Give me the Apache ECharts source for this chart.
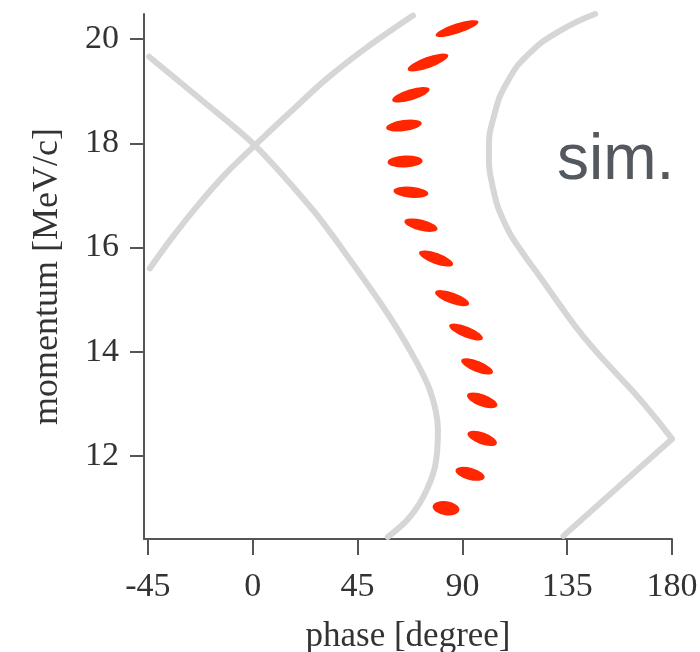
<!DOCTYPE html>
<html>
<head>
<meta charset="utf-8">
<script src="https://cdn.jsdelivr.net/npm/echarts@6/dist/echarts.min.js"></script>
<style>html,body{margin:0;padding:0;background:#fff;}#chart{width:700px;height:652px;}</style>
</head>
<body>
<div id="chart"></div>
<script>
// ---- data ----
const xTicks = [-45, 0, 45, 90, 135, 180];
const yTicks = [12, 14, 16, 18, 20];
const bunchPhase = [87.7, 75.2, 67.9, 64.9, 65.4, 67.9, 72.2, 78.7, 85.6, 91.6, 96.3, 98.5, 98.5, 93.3, 83.0];
const bunchMomentum = [20.20, 19.55, 18.93, 18.34, 17.65, 17.06, 16.43, 15.79, 15.03, 14.38, 13.72, 13.07, 12.34, 11.66, 11.00];
// bunch ellipse shape: [length px, thickness px, tilt deg]
const bunchShape = [[45,10,18],[43,11,20],[39,11,17],[36,11,8],[35,12,2],[35,11,-5],[34,11,-14],[36,11,-20],[36,11,-20],[36,11,-22],[34,11,-22],[32,12,-20],[31,12,-20],[30,12,-15],[27,14,-8]];
const separatrixDown = [[-44.5,19.66],[-22.0,18.83],[0.9,17.96],[26.0,16.71],[38.8,15.95],[56.0,14.86],[67.5,14.03],[76.1,13.26],[79.5,12.50],[78.2,11.79],[73.1,11.21],[66.2,10.77],[58.0,10.45]];
const separatrixUp = [[-44.2,15.60],[-34.8,16.18],[-23.6,16.81],[-12.0,17.40],[0.9,17.96],[15.9,18.59],[31.8,19.24],[49.0,19.84],[68.8,20.45]];
const outerUpper = [[147.0,20.48],[132.0,20.16],[119.1,19.74],[109.6,19.20],[103.6,18.53],[101.4,17.86],[103.1,17.15],[108.8,16.41],[115.7,15.91],[123.0,15.46],[131.5,14.92],[142.0,14.29],[154.3,13.67],[167.6,13.02],[180,12.33]];
const outerLower = [[180,12.33],[133.4,10.47]];

const chart = echarts.init(document.getElementById('chart'));
const axisColor = '#555';
const textColor = '#333';
const serif = '"Liberation Serif", "Times New Roman", serif';
const curveStyle = { color: '#d6d6d6', width: 6, cap: 'round', join: 'round' };
function curve(name, data, smooth) {
  return { name, type: 'line', data, showSymbol: false, smooth, clip: false,
    lineStyle: curveStyle, silent: true, animation: false, z: 1 };
}
chart.setOption({
  animation: false,
  backgroundColor: '#fff',
  grid: { left: 144, right: 28, top: 14, bottom: 113, outerBoundsMode: 'none', containLabel: false },
  xAxis: {
    type: 'value', min: -46.7, max: 180,
    name: 'phase [degree]', nameLocation: 'middle', nameGap: 80,
    nameTextStyle: { fontFamily: serif, fontSize: 35, color: textColor },
    axisLine: { onZero: false, lineStyle: { color: axisColor, width: 2 } },
    axisTick: { show: true, length: 16, lineStyle: { color: axisColor, width: 2 }, customValues: xTicks },
    axisLabel: { fontFamily: serif, fontSize: 34, color: textColor, margin: 31, customValues: xTicks },
    splitLine: { show: false }
  },
  yAxis: {
    type: 'value', min: 10.41, max: 20.48,
    name: 'momentum [MeV/c]', nameLocation: 'middle', nameGap: 78,
    nameTextStyle: { fontFamily: serif, fontSize: 36, color: textColor },
    axisLine: { show: true, onZero: false, lineStyle: { color: axisColor, width: 2 } },
    axisTick: { show: true, length: 14, lineStyle: { color: axisColor, width: 2 }, customValues: yTicks },
    axisLabel: { fontFamily: serif, fontSize: 34, color: textColor, margin: 25, customValues: yTicks },
    splitLine: { show: false }
  },
  graphic: [{
    type: 'text', left: 557, top: 129,
    style: { text: 'sim.', font: '64px "Liberation Sans", Arial, sans-serif', fill: '#54595f' }
  }],
  series: [
    curve('separatrixDown', separatrixDown, 0.3),
    curve('separatrixUp', separatrixUp, 0.3),
    curve('outerUpper', outerUpper, 0.5),
    curve('outerLower', outerLower, false),
    {
      name: 'bunches', type: 'scatter', z: 3, animation: false,
      data: bunchPhase.map((p, i) => ({
        value: [p, bunchMomentum[i]],
        symbolSize: [bunchShape[i][0], bunchShape[i][1]],
        symbolRotate: bunchShape[i][2]
      })),
      symbol: 'circle',
      itemStyle: { color: '#ff2600', opacity: 1 }
    }
  ]
});
</script>
</body>
</html>
